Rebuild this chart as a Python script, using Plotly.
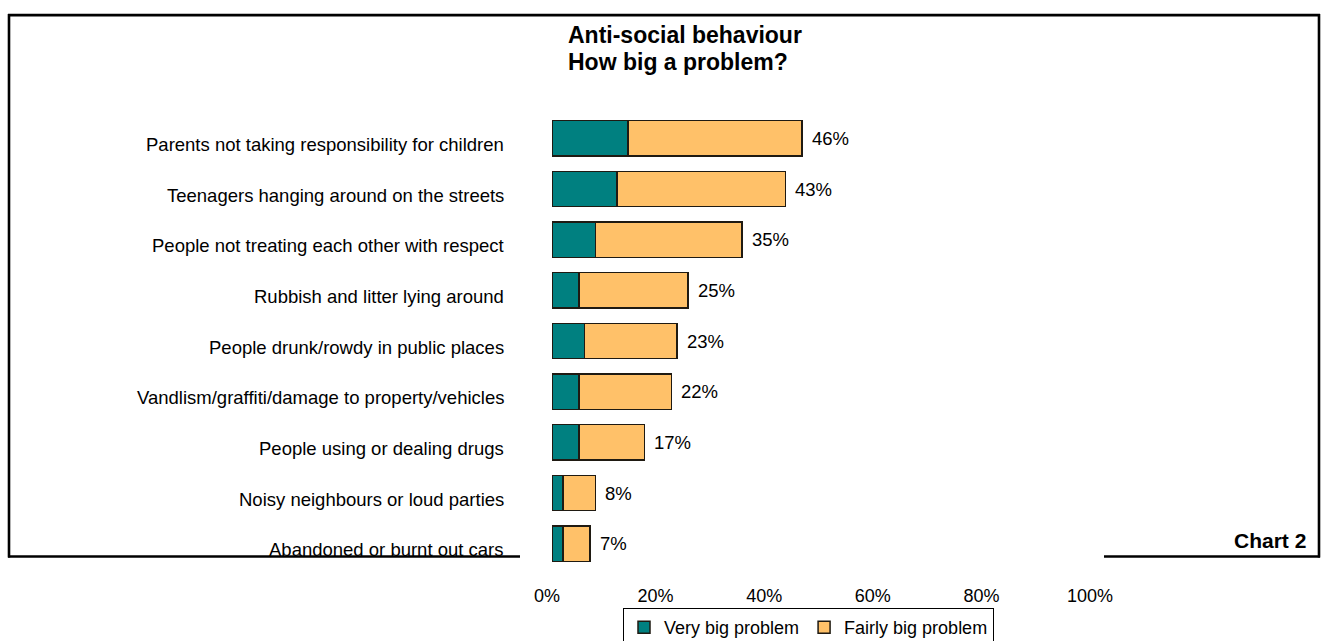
import plotly.graph_objects as go

# Survey data: share of respondents rating each issue as a problem (%)
categories = [
    "Parents not taking responsibility for children",
    "Teenagers hanging around on the streets",
    "People not treating each other with respect",
    "Rubbish and litter lying around",
    "People drunk/rowdy in public places",
    "Vandlism/graffiti/damage to property/vehicles",
    "People using or dealing drugs",
    "Noisy neighbours or loud parties",
    "Abandoned or burnt out cars",
]
very_big = [14, 12, 8, 5, 6, 5, 5, 2, 2]
fairly_big = [32, 31, 27, 20, 17, 17, 12, 6, 5]
totals = [v + f for v, f in zip(very_big, fairly_big)]

x_ticks = [0, 20, 40, 60, 80, 100]
x_tick_text = [f"{t}%" for t in x_ticks]

series_names = ["Very big problem", "Fairly big problem"]
title_lines = ["Anti-social behaviour", "How big a problem?"]
corner_label = "Chart 2"

# Page geometry (pixels)
W, H = 1323, 641
L, R = 552, 228
T, B = 113, 71.5
PW = W - L - R
PH = H - T - B

FONT = "Liberation Sans, Arial, sans-serif"
TEAL = "#008080"
ORANGE = "#FFC169"
EDGE = "#1f1a12"


def px_x(p):
    return (p - L) / PW


def px_y(p):
    return (H - B - p) / PH


fig = go.Figure()
fig.add_trace(go.Bar(
    y=categories, x=very_big, name=series_names[0], orientation="h",
    marker=dict(color=TEAL, line=dict(color=EDGE, width=1.5)),
))
fig.add_trace(go.Bar(
    y=categories, x=fairly_big, name=series_names[1], orientation="h",
    marker=dict(color=ORANGE, line=dict(color=EDGE, width=1.5)),
))

annotations = []
# category labels, right aligned left of the bars
for c in categories:
    annotations.append(dict(
        xref="paper", yref="y", x=px_x(506), y=c, text=c,
        xanchor="right", yanchor="middle", yshift=-6, showarrow=False,
        font=dict(family=FONT, size=18.5, color="#000000"),
    ))
# total labels at the end of each stacked bar
for c, t in zip(categories, totals):
    annotations.append(dict(
        xref="x", yref="y", x=t, y=c, text=f"{t}%",
        xanchor="left", yanchor="middle", xshift=8, showarrow=False,
        font=dict(family=FONT, size=18.5, color="#000000"),
    ))
# title
for i, line in enumerate(title_lines):
    annotations.append(dict(
        xref="paper", yref="paper", x=px_x(566), y=px_y(35 + 27 * i),
        text=f"<b>{line}</b>", xanchor="left", yanchor="middle",
        showarrow=False, font=dict(family=FONT, size=23, color="#000000"),
    ))
annotations.append(dict(
    xref="paper", yref="paper", x=px_x(1308), y=px_y(541),
    text=f"<b>{corner_label}</b>", xanchor="right", yanchor="middle",
    showarrow=False, font=dict(family=FONT, size=21, color="#000000"),
))

# frame around the chart; the bottom edge is broken where the axis area sits
frame = dict(color="#000000", width=2.6)
shapes = [
    dict(type="line", xref="paper", yref="paper", x0=px_x(8), x1=px_x(1320),
         y0=px_y(15), y1=px_y(15), line=frame),
    dict(type="line", xref="paper", yref="paper", x0=px_x(9), x1=px_x(9),
         y0=px_y(14), y1=px_y(558), line=frame),
    dict(type="line", xref="paper", yref="paper", x0=px_x(1319), x1=px_x(1319),
         y0=px_y(14), y1=px_y(558), line=frame),
    dict(type="line", xref="paper", yref="paper", x0=px_x(8), x1=px_x(520),
         y0=px_y(557), y1=px_y(557), line=frame),
    dict(type="line", xref="paper", yref="paper", x0=px_x(1104), x1=px_x(1320),
         y0=px_y(557), y1=px_y(557), line=frame),
]

fig.update_layout(
    width=W, height=H,
    margin=dict(l=L, r=R, t=T, b=B, pad=0, autoexpand=False),
    paper_bgcolor="#ffffff", plot_bgcolor="#ffffff",
    barmode="stack", bargap=0.3,
    font=dict(family=FONT, size=18, color="#000000"),
    showlegend=True,
    legend=dict(
        orientation="h",
        xref="container", yref="container",
        x=623 / W, y=1 - 608 / H,
        xanchor="left", yanchor="top",
        bordercolor="#000000", borderwidth=1, bgcolor="#ffffff",
        font=dict(family=FONT, size=18, color="#000000"),
        traceorder="normal",
    ),
    xaxis=dict(
        range=[0, 100], tickvals=x_ticks, ticktext=x_tick_text,
        showgrid=False, zeroline=False, showline=False, ticks="",
        ticklabelshift=-5, ticklabelstandoff=14,
        tickfont=dict(family=FONT, size=18, color="#000000"),
        fixedrange=True,
    ),
    yaxis=dict(
        categoryorder="array", categoryarray=categories,
        autorange="reversed", showticklabels=False,
        showgrid=False, zeroline=False, showline=False, ticks="",
        fixedrange=True,
    ),
    annotations=annotations,
    shapes=shapes,
)

fig.write_html("out.html", config={"displayModeBar": False})
